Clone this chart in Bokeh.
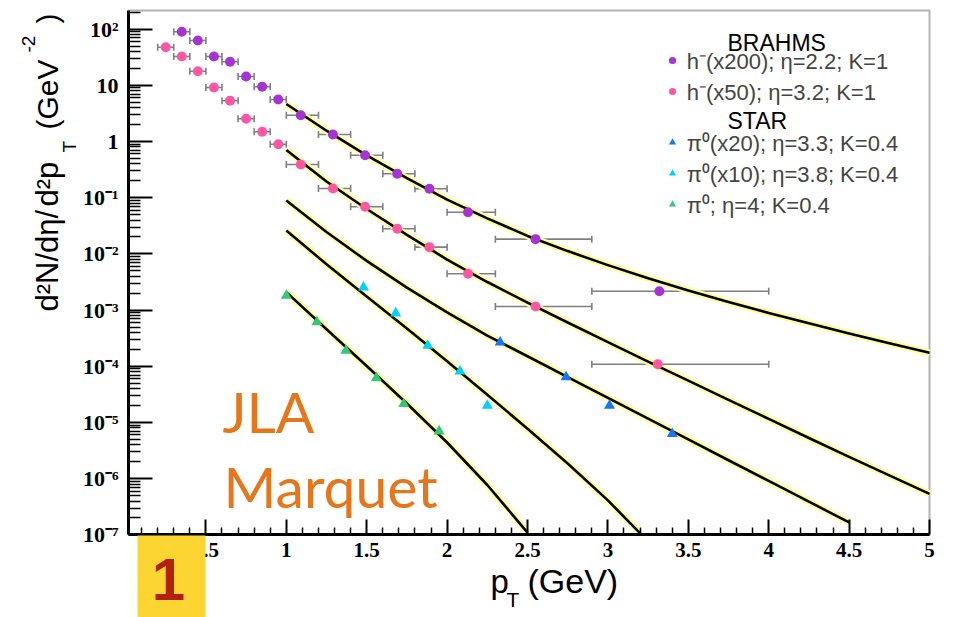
from bokeh.plotting import figure
from bokeh.models import (Range1d, FixedTicker, CustomJSTickFormatter, Whisker, TeeHead,
                          ColumnDataSource, Label, BoxAnnotation, Legend, LegendItem)
from bokeh.embed import file_html
from bokeh.resources import INLINE

# ---------------- data ----------------
# BRAHMS h- (x200), eta = 2.2
h200_pt = [0.35, 0.45, 0.55, 0.65, 0.75, 0.85, 0.95, 1.09, 1.29, 1.49, 1.69, 1.89, 2.13, 2.55, 3.32]
h200_y = [89.5, 62.7, 32.5, 26.2, 14.3, 9.4, 5.59, 2.94, 1.33, 0.570, 0.266, 0.144, 0.0552, 0.0183, 0.00217]
h200_lo = [0.30, 0.40, 0.50, 0.60, 0.70, 0.80, 0.90, 1.0, 1.2, 1.4, 1.6, 1.8, 2.0, 2.3, 2.9]
h200_hi = [0.40, 0.50, 0.60, 0.70, 0.80, 0.90, 1.00, 1.2, 1.4, 1.6, 1.8, 2.0, 2.3, 2.9, 4.0]

# BRAHMS h- (x50), eta = 3.2
h50_pt = [0.25, 0.35, 0.45, 0.55, 0.65, 0.75, 0.85, 0.95, 1.09, 1.29, 1.49, 1.69, 1.89, 2.13, 2.55, 3.31]
h50_y = [47.6, 32.5, 17.8, 9.14, 5.30, 2.54, 1.49, 0.895, 0.390, 0.146, 0.0689, 0.0280, 0.0132,
         0.00443, 0.00116, 0.000109]
h50_lo = [0.20, 0.30, 0.40, 0.50, 0.60, 0.70, 0.80, 0.90, 1.0, 1.2, 1.4, 1.6, 1.8, 2.0, 2.3, 2.9]
h50_hi = [0.30, 0.40, 0.50, 0.60, 0.70, 0.80, 0.90, 1.00, 1.2, 1.4, 1.6, 1.8, 2.0, 2.3, 2.9, 4.0]

# STAR pi0 (x20), eta = 3.3
pi20_pt = [2.33, 2.74, 3.01, 3.40]
pi20_y = [2.68e-4, 6.4e-5, 2.0e-5, 6.3e-6]
# STAR pi0 (x10), eta = 3.8
pi10_pt = [1.48, 1.68, 1.88, 2.08, 2.25]
pi10_y = [2.55e-3, 8.8e-4, 2.34e-4, 8.1e-5, 2.0e-5]
# STAR pi0, eta = 4
pi_pt = [1.00, 1.19, 1.37, 1.56, 1.73, 1.95]
pi_y = [1.82e-3, 6.1e-4, 1.91e-4, 6.2e-5, 2.15e-5, 7.0e-6]

# model curves
cA_pt = [1.0, 1.25, 1.5, 1.75, 2.0, 2.25, 2.5, 2.75, 3.0, 3.25, 3.5, 3.75, 4.0, 4.25, 4.5, 4.75, 5.0]
cA_y = [4.65, 1.556, 0.565, 0.2223, 0.0925, 0.0428, 0.0209, 0.01122, 0.00631, 0.00369, 0.002234,
        0.001393, 0.000889, 0.000581, 0.000385, 0.000258, 0.000174]
cB_pt = [1.0, 1.25, 1.5, 1.75, 2.0, 2.25, 2.5, 2.75, 3.0, 3.25, 3.5, 3.75, 4.0, 4.25, 4.5, 4.75, 5.0]
cB_y = [0.706, 0.1945, 0.0630, 0.0218, 0.00794, 0.00316, 0.00136, 0.000601, 0.000269, 0.0001213,
        5.55e-5, 2.535e-5, 1.159e-5, 5.30e-6, 2.449e-6, 1.146e-6, 5.38e-7]
cC_pt = [1.0, 1.25, 1.5, 1.75, 2.0, 2.25, 2.5, 2.75, 3.0, 3.25, 3.5, 3.75, 4.0, 4.25, 4.5]
cC_y = [0.0891, 0.02455, 0.00750, 0.002512, 0.000912, 0.000352, 0.000151, 6.43e-5, 2.74e-5, 1.17e-5,
        5.00e-6, 2.13e-6, 9.14e-7, 3.90e-7, 1.67e-7]
cD_pt = [1.0, 1.25, 1.5, 1.75, 2.0, 2.25, 2.5, 2.75, 3.0, 3.21]
cD_y = [0.02606, 0.00655, 0.001742, 0.000469, 0.0001233, 3.13e-5, 7.74e-6, 1.858e-6, 4.11e-7, 1.0e-7]
cE_pt = [1.0, 1.25, 1.5, 1.75, 2.0, 2.25, 2.5]
cE_y = [0.00209, 0.000457, 0.000101, 2.18e-5, 4.41e-6, 7.73e-7, 1.10e-7]

labels_brahms = ["h⁻(x200); η=2.2; K=1", "h⁻(x50); η=3.2; K=1"]
labels_star = ["π⁰(x20); η=3.3; K=0.4", "π⁰(x10); η=3.8; K=0.4", "π⁰; η=4; K=0.4"]

x_major = [0.5, 1.0, 1.5, 2.0, 2.5, 3.0, 3.5, 4.0, 4.5, 5.0]
x_minor = [round(0.1 * i, 1) for i in range(1, 50) if i % 5]
y_major = [10.0 ** e for e in range(-7, 3)]
y_minor = [k * 10.0 ** e for e in range(-7, 3) for k in range(2, 10) if k * 10.0 ** e < 214]

# axis window of the chart (data units)
X_LO, X_HI = 0.0187, 5.0
Y_LO, Y_HI = 1e-7, 214.3

# ---------------- styling ----------------
W, H = 957, 617
PURPLE = "#A633D4"
PINK = "#FF57A3"
BLUE = "#1677EE"
CYAN = "#00D0FF"
GREEN = "#34C77B"
ERR = "#7F7F7F"
BAND = "#FFFFA0"
ORANGE = "#E5761B"

# the frame covers the whole canvas; the axes sit at fixed locations inside it
p = figure(width=W, height=H, x_range=Range1d(-0.7774, 5.1741), y_range=Range1d(3.391e-9, 322.8),
           y_axis_type="log", output_backend="svg", toolbar_location=None, min_border=0)
p.xgrid.visible = False
p.ygrid.visible = False
p.background_fill_color = "white"
p.border_fill_color = "white"
p.outline_line_color = None

xa = p.xaxis[0]
xa.fixed_location = Y_LO
xa.bounds = (X_LO, X_HI)
xa.ticker = FixedTicker(ticks=x_major, minor_ticks=x_minor)
xa.formatter = CustomJSTickFormatter(code="return String(Math.round(tick*10)/10);")
ya = p.yaxis[0]
ya.fixed_location = X_LO
ya.bounds = (Y_LO, Y_HI)
ya.ticker = FixedTicker(ticks=y_major, minor_ticks=y_minor)
ya.formatter = CustomJSTickFormatter(code="""
const e = Math.round(Math.log10(tick));
if (e == 0) return "1";
if (e == 1) return "10";
const sup = {"-":"\u207b","0":"\u2070","1":"\u00b9","2":"\u00b2","3":"\u00b3","4":"\u2074",
             "5":"\u2075","6":"\u2076","7":"\u2077","8":"\u2078","9":"\u2079"};
return "10" + String(e).split("").map(c => sup[c]).join("");
""")
for ax, mj, mn in ((xa, 15, 7), (ya, 24, 12)):
    ax.axis_line_width = 3
    ax.axis_line_color = "black"
    ax.major_tick_in = mj
    ax.major_tick_out = 0
    ax.minor_tick_in = mn
    ax.minor_tick_out = 0
    ax.major_tick_line_width = 2
    ax.minor_tick_line_width = 1.5
    ax.major_label_text_font = "Liberation Serif"
    ax.major_label_text_font_style = "bold"
    ax.major_label_text_color = "black"
xa.major_label_text_font_size = "21px"
xa.major_label_standoff = 8
ya.major_label_text_font_size = "22px"
ya.major_label_standoff = 10

# frame border (top and right edges of the axis window)
p.add_layout(BoxAnnotation(left=X_LO, right=X_HI, bottom=Y_LO, top=Y_HI, fill_alpha=0,
                           line_color="black", line_width=2, level="underlay"))

# curves: pale band + black line
for cx, cy in ((cA_pt, cA_y), (cB_pt, cB_y), (cC_pt, cC_y), (cD_pt, cD_y), (cE_pt, cE_y)):
    p.line(cx, cy, line_color=BAND, line_width=7, line_join="round")
    p.line(cx, cy, line_color="black", line_width=2.6, line_join="round")

# error bars
for ys, lo, hi in ((h200_y, h200_lo, h200_hi), (h50_y, h50_lo, h50_hi)):
    src = ColumnDataSource(dict(y=ys, lo=lo, hi=hi))
    w = Whisker(base="y", lower="lo", upper="hi", dimension="width", source=src,
                line_color=ERR, line_width=1.6,
                upper_head=TeeHead(size=7, line_color=ERR, line_width=1.6),
                lower_head=TeeHead(size=7, line_color=ERR, line_width=1.6))
    p.add_layout(w)

r_h200 = p.scatter(h200_pt, h200_y, marker="circle", size=10, fill_color=PURPLE, line_color=None)
r_h50 = p.scatter(h50_pt, h50_y, marker="circle", size=10, fill_color=PINK, line_color=None)
r_pi20 = p.scatter(pi20_pt, pi20_y, marker="triangle", size=11, fill_color=BLUE, line_color=None)
r_pi10 = p.scatter(pi10_pt, pi10_y, marker="triangle", size=11, fill_color=CYAN, line_color=None)
r_pi = p.scatter(pi_pt, pi_y, marker="triangle", size=11, fill_color=GREEN, line_color=None)

def make_legend(items, loc):
    return Legend(items=items, location=loc, label_text_font="Liberation Sans",
                  label_text_font_size="22px", glyph_width=18, glyph_height=18,
                  label_standoff=6, label_height=26, spacing=1, padding=0, margin=0,
                  border_line_color=None, background_fill_alpha=0)

p.add_layout(make_legend([LegendItem(label=labels_brahms[0], renderers=[r_h200]),
                          LegendItem(label=labels_brahms[1], renderers=[r_h50])], (662.7, 511.3)))
p.add_layout(make_legend([LegendItem(label=labels_star[0], renderers=[r_pi20]),
                          LegendItem(label=labels_star[1], renderers=[r_pi10]),
                          LegendItem(label=labels_star[2], renderers=[r_pi])], (662.7, 398.5)))

K = 0.4  # baseline correction, fraction of font size

def clabel(text, cx, cy, size, angle=0, **kw):
    """text whose baseline starts at canvas pixel (cx, cy)"""
    if angle:
        sx, sy = cx - K * size, H - cy
    else:
        sx, sy = cx, H - (cy - K * size)
    opts = dict(x=sx, y=sy, x_units="screen", y_units="screen", text=text,
                text_font="Liberation Sans", text_font_size=f"{size}px", text_color="black",
                text_align="left", text_baseline="alphabetic", angle=angle, angle_units="deg")
    opts.update(kw)
    p.add_layout(Label(**opts))

clabel("BRAHMS", 727, 52, 23)
clabel("STAR", 727, 130, 23)

# y axis title (rotated)
clabel("d²N/dη/", 59, 311, 31, angle=90)
clabel("d²p", 59, 206, 31, angle=90)
clabel("T", 77, 152, 19, angle=90)
clabel("(GeV", 59, 129, 30, angle=90)
clabel("-2", 36, 52, 19, angle=90)
clabel(")", 59, 23, 30, angle=90)

# x axis title
clabel("p", 490, 594, 33)
clabel("T", 506, 607, 21)
clabel("(GeV)", 527, 594, 34)

# author note
clabel("JLA", 222, 433, 57, text_font="Lato", text_color=ORANGE)
clabel("Marquet", 223, 508, 57, text_font="Lato", text_color=ORANGE)

# slide number box
p.add_layout(BoxAnnotation(left=137, right=205, bottom=0, top=H - 535,
                           left_units="screen", right_units="screen",
                           bottom_units="screen", top_units="screen",
                           fill_color="#FDD533", fill_alpha=1.0, line_color=None))
clabel("1", 168, 603, 60, text_align="center", text_font_style="bold", text_color="#B3200C")

open("out.html", "w").write(file_html(p, INLINE))
